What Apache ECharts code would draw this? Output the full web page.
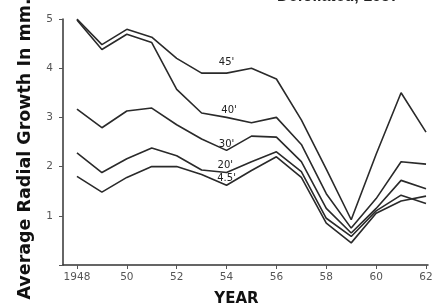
<!DOCTYPE html>
<html>
<head>
<meta charset="utf-8">
<script src="https://cdn.jsdelivr.net/npm/echarts@6/dist/echarts.min.js"></script>
<style>
  html, body { margin: 0; padding: 0; background: #fff; }
  #chart { width: 441px; height: 305px; }
</style>
</head>
<body>
<div id="chart"></div>
<script>
// years on the x axis
var years = [1948, 1949, 1950, 1951, 1952, 1953, 1954, 1955, 1956, 1957, 1958, 1959, 1960, 1961, 1962];
var tickYears = [1948, 1950, 1952, 1954, 1956, 1958, 1960, 1962];

// radial growth (mm) at each height on the stem
var h45 = [5.0, 4.48, 4.79, 4.63, 4.2, 3.9, 3.9, 4.0, 3.78, 2.95, 1.95, 0.92, 2.25, 3.5, 2.7];
var h40 = [4.98, 4.38, 4.69, 4.52, 3.57, 3.09, 3.0, 2.89, 3.0, 2.45, 1.45, 0.75, 1.35, 2.1, 2.05];
var h30 = [3.17, 2.79, 3.13, 3.19, 2.85, 2.56, 2.33, 2.62, 2.6, 2.1, 1.15, 0.65, 1.15, 1.72, 1.55];
var h20 = [2.28, 1.88, 2.16, 2.38, 2.22, 1.93, 1.88, 2.1, 2.3, 1.9, 0.95, 0.58, 1.1, 1.42, 1.25];
var h45b = [1.8, 1.48, 1.78, 2.0, 2.0, 1.84, 1.62, 1.92, 2.2, 1.78, 0.85, 0.45, 1.05, 1.3, 1.4];

var seriesNames = ["45'", "40'", "30'", "20'", "4.5'"];
var seriesValues = [h45, h40, h30, h20, h45b];
// where each height label sits (data coords)
var labelX = [1954.0, 1954.1, 1954.0, 1953.95, 1954.0];
var labelY = [4.12, 3.15, 2.46, 2.03, 1.77];

var myChart = echarts.init(document.getElementById('chart'));

var series = seriesValues.map(function (vals, i) {
  return {
    name: seriesNames[i],
    type: 'line',
    data: years.map(function (y, k) { return [y, vals[k]]; }),
    symbol: 'none',
    lineStyle: { color: '#2a2a2a', width: 1.6 },
    silent: true,
    markPoint: {
      symbol: 'circle',
      symbolSize: 0,
      silent: true,
      label: {
        show: true,
        position: 'inside',
        formatter: seriesNames[i],
        color: '#222',
        fontSize: 10,
        fontFamily: 'DejaVu Sans'
      },
      data: [{ coord: [labelX[i], labelY[i]] }]
    }
  };
});

var option = {
  animation: false,
  grid: { left: 63, right: 13, top: 19, bottom: 40, outerBoundsMode: 'none', containLabel: false },
  graphic: [
    {
      // title cut off at the top of the scan
      type: 'text',
      left: 277,
      top: -11,
      style: {
        text: 'Defoliated, 1957',
        font: 'bold 16px "Liberation Sans"',
        fill: '#222'
      }
    },
    {
      type: 'text',
      x: 25,
      y: 149,
      rotation: Math.PI / 2,
      style: {
        text: 'Average Radial Growth In mm.',
        font: 'bold 17.5px "DejaVu Sans"',
        fill: '#111',
        align: 'center',
        verticalAlign: 'middle'
      }
    }
  ],
  xAxis: {
    type: 'value',
    min: 1947.44,
    max: 1962.08,
    name: 'YEAR',
    nameLocation: 'middle',
    nameGap: 27,
    nameTextStyle: {
      fontSize: 15,
      fontWeight: 'bold',
      color: '#111',
      fontFamily: 'DejaVu Sans',
      padding: [0, 18, 0, 0]
    },
    axisLine: { lineStyle: { color: '#333', width: 1.5 } },
    axisTick: { show: true, length: 4, customValues: tickYears, lineStyle: { color: '#555' } },
    axisLabel: {
      customValues: tickYears,
      margin: 7,
      fontSize: 10.5,
      color: '#555',
      fontFamily: 'DejaVu Sans',
      formatter: function (v) { return v === 1948 ? '1948' : String(v).slice(2); }
    },
    splitLine: { show: false }
  },
  yAxis: {
    type: 'value',
    min: 0,
    max: 5,
    interval: 1,
    axisLine: { show: true, lineStyle: { color: '#333', width: 1.5 } },
    axisTick: { show: true, length: 4, lineStyle: { color: '#555' } },
    axisLabel: {
      margin: 10,
      fontSize: 10.5,
      color: '#555',
      fontFamily: 'DejaVu Sans',
      formatter: function (v) { return v === 0 ? '' : v; }
    },
    splitLine: { show: false }
  },
  series: series
};

myChart.setOption(option);
</script>
</body>
</html>
